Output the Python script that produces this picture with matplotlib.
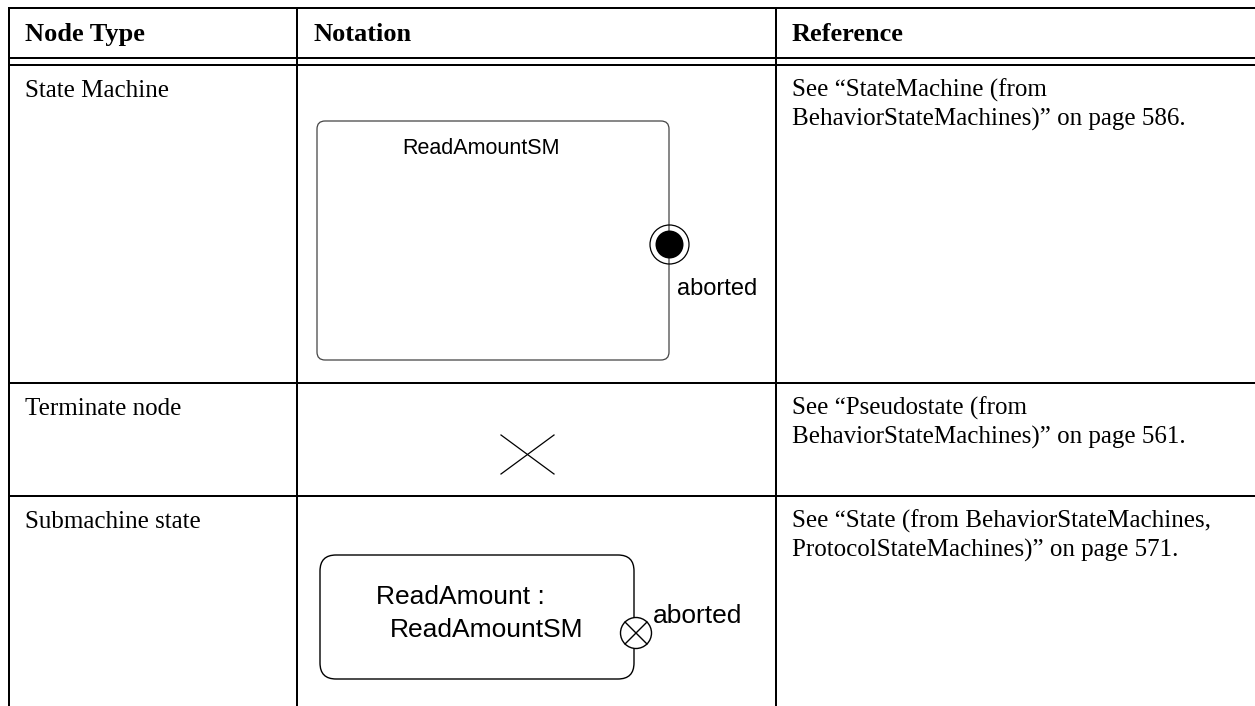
import numpy as np
import matplotlib.pyplot as plt
from matplotlib.patches import FancyBboxPatch, Circle

# table content
headers = ['Node Type', 'Notation', 'Reference']
node_types = ['State Machine', 'Terminate node', 'Submachine state']
references = [
    ['See \u201cStateMachine (from', 'BehaviorStateMachines)\u201d on page 586.'],
    ['See \u201cPseudostate (from', 'BehaviorStateMachines)\u201d on page 561.'],
    ['See \u201cState (from BehaviorStateMachines,', 'ProtocolStateMachines)\u201d on page 571.'],
]
sm_name = 'ReadAmountSM'
exit_label = 'aborted'
submachine_lines = ['ReadAmount :', 'ReadAmountSM']

# layout in pixels
W, H = 1255, 706
col_x = [9, 297, 776]
row_top = [65, 383, 496]
serif = 'Liberation Serif'
sans = 'Liberation Sans'
lw = 1.44  # 2 px

fig = plt.figure(figsize=(12.55, 7.06), dpi=100)
ax = fig.add_axes([0, 0, 1, 1])
ax.set_xlim(0, W)
ax.set_ylim(H, 0)
ax.axis('off')

# grid lines
ax.plot([col_x[0], W], [8, 8], color='k', lw=lw)
ax.plot([col_x[0], W], [57.5, 57.5], color='k', lw=lw)
ax.plot([col_x[0], W], [64.5, 64.5], color='k', lw=lw)
for y in row_top[1:]:
    ax.plot([col_x[0], W], [y, y], color='k', lw=lw)
for x in col_x:
    ax.plot([x, x], [8, H], color='k', lw=lw)

# header
for x, h in zip(col_x, headers):
    ax.text(x + 16, 41, h, fontsize=19, fontweight='bold', family=serif,
            ha='left', va='baseline')

# text columns
for top, name, ref in zip(row_top, node_types, references):
    ax.text(col_x[0] + 16, top + 32, name, fontsize=18, family=serif,
            ha='left', va='baseline')
    for k, line in enumerate(ref):
        ax.text(col_x[2] + 16, top + 32 + 29 * k, line, fontsize=18,
                family=serif, ha='left', va='baseline')

# state machine
box = FancyBboxPatch((317, 121), 352, 239, boxstyle='round,pad=0,rounding_size=8',
                     fc='none', ec='#444444', lw=0.9)
ax.add_patch(box)
ax.text(481, 154, sm_name, fontsize=15.5, family=sans, ha='center', va='baseline')
ax.add_patch(Circle((669.5, 244.5), 19.5, fc='none', ec='k', lw=0.9))
ax.add_patch(Circle((669.5, 244.5), 14, fc='k', ec='none'))
ax.text(677, 295, exit_label, fontsize=17, family=sans, ha='left', va='baseline')

# terminate node
ax.plot([501, 554], [435, 474], color='k', lw=0.9)
ax.plot([501, 554], [474, 435], color='k', lw=0.9)

# submachine state
sub = FancyBboxPatch((320, 555), 314, 124, boxstyle='round,pad=0,rounding_size=16',
                     fc='none', ec='k', lw=1.0)
ax.add_patch(sub)
ax.text(376, 604, submachine_lines[0], fontsize=19, family=sans, ha='left', va='baseline')
ax.text(390, 637, submachine_lines[1], fontsize=19, family=sans, ha='left', va='baseline')
cx, cy, r = 636, 633, 15.5
ax.add_patch(Circle((cx, cy), r, fc='white', ec='k', lw=1.0, zorder=3))
d = r * np.cos(np.pi / 4)
ax.plot([cx - d, cx + d], [cy - d, cy + d], color='k', lw=1.0, zorder=4)
ax.plot([cx - d, cx + d], [cy + d, cy - d], color='k', lw=1.0, zorder=4)
ax.text(653, 623, exit_label, fontsize=19, family=sans, ha='left', va='baseline')

fig.savefig('out.png', dpi=100)
